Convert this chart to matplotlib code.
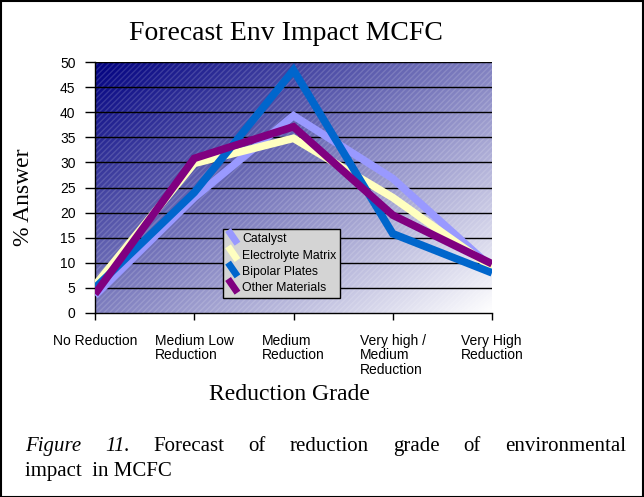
import numpy as np
import matplotlib
matplotlib.use("Agg")
import matplotlib.pyplot as plt
from matplotlib.patches import Rectangle
from matplotlib.legend_handler import HandlerBase
from matplotlib.lines import Line2D

categories = ["No Reduction", "Medium Low\nReduction", "Medium\nReduction",
              "Very high /\nMedium\nReduction", "Very High\nReduction"]
catalyst = [3.5, 23, 39.3, 26.8, 9]
electrolyte = [5.5, 29.8, 34.8, 23, 9]
bipolar = [5, 24, 48.4, 15.8, 8]
other = [3.8, 30.8, 37.1, 19.5, 9.8]
series_names = ["Catalyst", "Electrolyte Matrix", "Bipolar Plates", "Other Materials"]
series_colors = ["#9999FF", "#FFFFC0", "#0066CC", "#800080"]
yticks = list(range(0, 55, 5))

serif = ["Liberation Serif", "DejaVu Serif"]
sans = ["Liberation Sans", "DejaVu Sans"]

fig = plt.figure(figsize=(6.44, 4.97), dpi=100)
fig.patch.set_facecolor("white")
W, H = 644, 497

ax = fig.add_axes([95 / W, 1 - 313 / H, 397 / W, 251 / H])
x = np.arange(len(categories))
ax.set_xlim(0, len(categories) - 1)
ax.set_ylim(0, 50)

# gradient background (navy top-left -> white bottom-right)
n = 300
gx, gy = np.meshgrid(np.linspace(0, 1, n), np.linspace(0, 1, n))
t = (gx + gy) / 2
c0 = np.array([0, 0, 128]) / 255
c1 = np.array([1.0, 1.0, 1.0])
img = c0[None, None, :] * (1 - t[..., None]) + c1[None, None, :] * t[..., None]
ax.imshow(img, extent=[0, len(categories) - 1, 0, 50], origin="upper",
          aspect="auto", zorder=0)
hatch = Rectangle((0, 0), len(categories) - 1, 50, facecolor="none",
                  edgecolor=(1, 1, 1, 0.15), hatch="//////", linewidth=0, zorder=0.5)
ax.add_patch(hatch)

for yv in yticks[1:]:
    ax.axhline(yv, color="black", linewidth=1.0, zorder=1)

data = [catalyst, electrolyte, bipolar, other]
for vals, name, col in zip(data, series_names, series_colors):
    ax.plot(x, vals, color=col, linewidth=5.5, label=name, zorder=3,
            solid_joinstyle="miter", solid_capstyle="butt")

ax.set_xticks(x)
ax.set_xticklabels(categories, family=sans, fontsize=10, ha="center",
                   multialignment="left", va="top", linespacing=1.05)
ax.set_yticks(yticks)
ax.set_yticklabels([str(v) for v in yticks], family=sans, fontsize=10)
ax.tick_params(axis="y", direction="out", length=7, width=1, color="black", pad=7)
ax.tick_params(axis="x", direction="out", length=5, width=1, color="black", pad=10)
for s in ["top", "right"]:
    ax.spines[s].set_visible(False)
for s in ["left", "bottom"]:
    ax.spines[s].set_linewidth(1.0)
    ax.spines[s].set_color("black")


class DiagHandler(HandlerBase):
    def create_artists(self, legend, orig_handle, xdescent, ydescent, width,
                       height, fontsize, trans):
        l = Line2D([xdescent + 1, width - 1], [height + 1, -1], color=orig_handle.get_color(),
                   linewidth=5, solid_capstyle="butt", transform=trans)
        return [l]


handles = [Line2D([], [], color=c) for c in series_colors]
leg = ax.legend(handles, series_names, loc="upper left",
                bbox_to_anchor=((223 - 95) / 397, (313 - 229) / 251),
                handler_map={Line2D: DiagHandler()},
                prop={"family": sans, "size": 8.8}, frameon=True, fancybox=False,
                handlelength=1.0, handleheight=1.0, handletextpad=0.25,
                labelspacing=0.3, borderpad=0.3, borderaxespad=0)
leg.get_frame().set_facecolor("#D4D4D4")
leg.get_frame().set_edgecolor("black")
leg.get_frame().set_linewidth(1.0)
leg.get_frame().set_alpha(1)
leg.set_zorder(5)

fig.text(286 / W, 1 - 33 / H, "Forecast Env Impact MCFC", family=serif,
         fontsize=20, ha="center", va="center")
fig.text(289 / W, 1 - 395 / H, "Reduction Grade", family=serif,
         fontsize=17, ha="center", va="center")
fig.text(24 / W, 1 - 197 / H, "% Answer", family=serif, fontsize=17,
         rotation=90, ha="center", va="center")

# caption, justified first line
fig.canvas.draw()
renderer = fig.canvas.get_renderer()
line1 = [("Figure", "italic"), ("11.", "italic"), ("Forecast", "normal"),
         ("of", "normal"), ("reduction", "normal"), ("grade", "normal"),
         ("of", "normal"), ("environmental", "normal")]
left, right = 25, 626
ycap1 = 1 - 451 / H
texts = []
widths = []
for w, st in line1:
    tt = fig.text(0, ycap1, w, family=serif, fontsize=15, style=st,
                  ha="left", va="baseline")
    bb = tt.get_window_extent(renderer)
    texts.append(tt)
    widths.append(bb.width)
gap = (right - left - sum(widths)) / (len(line1) - 1)
pos = left
for tt, wd in zip(texts, widths):
    tt.set_x(pos / W)
    pos += wd + gap
fig.text(left / W, 1 - 476 / H, "impact  in MCFC", family=serif, fontsize=15,
         ha="left", va="baseline")

fig.add_artist(Rectangle((0.001, 0.001), 0.997, 0.997, transform=fig.transFigure,
                         fill=False, edgecolor="black", linewidth=1.5))

fig.savefig("out.png", dpi=100)
